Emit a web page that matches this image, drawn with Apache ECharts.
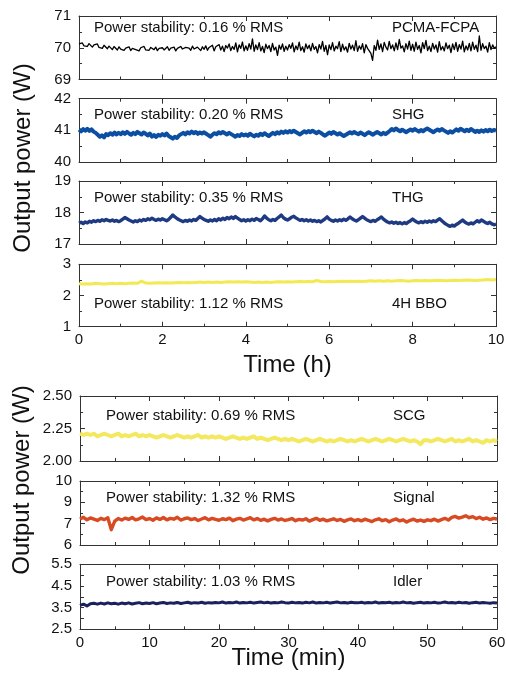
<!DOCTYPE html>
<html><head><meta charset="utf-8">
<script src="https://cdn.jsdelivr.net/npm/echarts@6/dist/echarts.min.js"></script>
<style>html,body{margin:0;padding:0;background:#fff}#c{width:506px;height:679px}</style>
</head><body><div id="c"></div>
<script>
// ---------- DATA ----------
// Top group: time span 0–10 h, samples evenly spaced over the span
const hoursSpan = 10;
const hourTicks = [0, 2, 4, 6, 8, 10];
const pcmaFcpa = [
70.12,70.08,70.15,70.06,70.11,70.04,70.13,70.07,70.02,70.09,70.05,70.12,70.01,70.06,69.98,70.08,70.03,69.97,70.05,70.00,69.94,70.04,69.99,69.93,70.03,
69.96,70.02,69.92,69.99,69.95,70.03,69.91,69.98,70.01,69.94,69.97,69.90,70.00,69.95,70.04,69.93,69.97,69.92,70.01,69.96,69.94,70.02,69.91,69.98,69.95,
70.00,69.93,69.97,70.03,69.92,69.99,69.95,70.02,69.90,69.98,69.94,70.04,69.96,69.91,70.01,69.95,69.99,69.92,70.05,69.96,69.93,70.02,69.97,69.91,70.03,
69.95,70.06,69.92,70.01,69.96,70.08,69.90,70.03,69.97,70.10,69.93,70.05,69.88,70.07,69.99,70.12,69.91,70.04,69.95,70.15,69.87,70.09,69.98,70.18,69.90,
70.06,69.92,70.13,69.96,70.28,69.89,70.09,69.94,70.16,69.90,70.04,69.85,70.11,69.97,70.07,69.88,70.14,69.93,70.02,69.76,70.08,69.95,70.12,69.89,70.05,
69.93,70.10,69.98,70.15,69.87,70.06,69.94,70.18,69.91,70.03,69.86,70.12,69.97,70.08,69.90,70.14,69.95,70.04,69.84,70.10,69.96,70.20,69.89,70.07,69.78,
70.09,69.94,70.16,69.90,70.05,69.97,70.19,69.88,70.11,69.93,70.03,69.86,70.14,69.96,70.08,69.91,70.22,69.89,70.06,69.95,70.13,69.84,70.10,69.98,70.04,
69.82,69.60,70.07,69.92,70.24,69.95,70.12,69.88,70.17,70.02,69.93,70.20,69.97,70.09,69.90,70.15,69.94,70.26,69.99,70.06,69.87,70.13,69.96,70.21,69.92,
70.11,69.89,70.18,69.95,70.07,69.84,70.16,69.97,70.23,69.91,70.05,69.88,70.14,69.96,70.09,69.86,70.19,69.93,70.04,69.90,70.15,69.97,70.08,69.85,70.12,
69.94,70.17,69.89,70.10,69.96,70.21,69.87,70.06,69.93,70.14,69.90,70.18,69.95,70.08,69.88,70.37,69.92,70.13,69.97,70.05,69.86,70.16,69.94,70.09,69.98,
70.03];
const shg = [
41.02,40.97,41.04,40.99,41.05,40.98,41.03,40.96,40.92,40.86,40.80,40.84,40.78,40.88,40.85,40.91,40.86,40.93,40.87,40.92,
40.88,40.94,40.89,40.95,40.90,40.86,40.92,40.88,40.95,40.91,40.87,40.93,40.89,40.84,40.90,40.80,40.85,40.79,40.86,40.83,
40.88,40.84,40.90,40.82,40.78,40.74,40.80,40.76,40.84,40.88,40.92,40.87,40.94,40.90,40.96,40.91,40.95,40.89,40.93,40.90,
40.94,40.89,40.85,40.80,40.86,40.91,40.88,40.94,40.90,40.95,40.91,40.87,40.92,40.88,40.84,40.80,40.85,40.82,40.88,40.84,
40.87,40.83,40.89,40.85,40.81,40.86,40.83,40.89,40.85,40.91,40.86,40.82,40.87,40.92,40.88,40.94,40.90,40.96,40.92,40.97,
40.93,40.98,40.94,40.99,40.95,40.91,40.87,40.92,40.97,40.93,40.98,40.94,40.99,40.95,40.91,40.96,40.92,40.87,40.83,40.88,
40.93,40.89,40.95,40.91,40.87,40.91,40.86,40.82,40.86,40.90,40.94,40.90,40.95,40.91,40.88,40.93,40.89,40.85,40.90,40.94,
40.90,40.86,40.91,40.95,40.91,40.87,40.92,40.88,40.93,40.98,41.04,41.00,41.06,41.01,40.97,41.02,40.98,40.94,40.99,41.03,
40.99,41.04,41.00,40.96,41.01,40.97,41.02,41.06,41.02,40.98,40.94,40.99,41.03,40.99,41.04,41.00,40.96,40.92,40.97,40.93,
40.98,41.03,40.99,41.05,41.01,40.97,41.02,40.98,41.04,41.00,40.95,40.99,40.95,41.00,40.96,41.01,40.97,41.02,40.98,41.01,40.99];
const thg = [
17.66,17.69,17.65,17.70,17.67,17.72,17.69,17.74,17.71,17.75,17.72,17.77,17.74,17.78,17.75,17.73,17.76,17.72,17.75,17.71,
17.74,17.79,17.84,17.80,17.76,17.73,17.70,17.74,17.71,17.76,17.73,17.78,17.75,17.80,17.77,17.82,17.78,17.75,17.79,17.76,
17.80,17.77,17.74,17.78,17.85,17.92,17.86,17.81,17.77,17.74,17.71,17.75,17.72,17.76,17.73,17.78,17.75,17.81,17.87,17.82,
17.78,17.75,17.72,17.76,17.73,17.78,17.74,17.80,17.76,17.82,17.78,17.84,17.80,17.86,17.81,17.87,17.82,17.78,17.74,17.77,
17.73,17.77,17.74,17.79,17.75,17.81,17.78,17.74,17.80,17.89,17.82,17.77,17.74,17.78,17.75,17.81,17.86,17.92,17.84,17.79,
17.76,17.80,17.85,17.88,17.83,17.79,17.75,17.78,17.74,17.77,17.73,17.76,17.72,17.75,17.71,17.74,17.70,17.75,17.80,17.86,
17.79,17.75,17.72,17.76,17.73,17.77,17.74,17.79,17.75,17.80,17.86,17.80,17.76,17.73,17.77,17.82,17.87,17.82,17.77,17.74,
17.71,17.75,17.72,17.77,17.81,17.86,17.79,17.74,17.70,17.67,17.70,17.66,17.69,17.65,17.68,17.64,17.68,17.65,17.70,17.74,
17.79,17.74,17.70,17.67,17.71,17.68,17.72,17.69,17.73,17.70,17.74,17.71,17.76,17.80,17.74,17.68,17.63,17.59,17.56,17.60,
17.57,17.62,17.66,17.71,17.76,17.70,17.66,17.63,17.67,17.64,17.69,17.74,17.70,17.76,17.72,17.68,17.65,17.69,17.64,17.61,17.63];
const bbo4h = [
2.38,2.37,2.38,2.37,2.39,2.38,2.37,2.38,2.39,2.38,
2.39,2.38,2.39,2.40,2.39,2.46,2.40,2.39,2.40,2.41,
2.40,2.41,2.40,2.41,2.42,2.41,2.42,2.41,2.42,2.43,
2.42,2.43,2.42,2.43,2.42,2.43,2.44,2.43,2.44,2.43,
2.44,2.43,2.42,2.43,2.42,2.43,2.42,2.43,2.44,2.43,
2.44,2.43,2.44,2.45,2.44,2.45,2.44,2.48,2.45,2.44,
2.45,2.44,2.45,2.46,2.45,2.46,2.45,2.46,2.45,2.46,
2.47,2.46,2.47,2.46,2.47,2.46,2.47,2.48,2.47,2.46,
2.47,2.48,2.47,2.48,2.47,2.48,2.49,2.48,2.47,2.48,
2.49,2.48,2.49,2.50,2.49,2.48,2.49,2.50,2.51,2.50,2.51];

// Bottom group: time span 0–60 min
const minutesSpan = 60;
const minuteTicks = [0, 10, 20, 30, 40, 50, 60];
const scg = [
2.21,2.20,2.21,2.20,2.21,2.19,2.20,2.21,2.20,2.19,2.20,2.21,2.19,2.20,2.19,2.20,2.21,2.19,2.20,2.19,
2.20,2.19,2.18,2.19,2.20,2.19,2.18,2.19,2.20,2.19,2.18,2.19,2.18,2.19,2.20,2.18,2.19,2.18,2.19,2.18,
2.19,2.18,2.17,2.18,2.19,2.18,2.17,2.18,2.17,2.18,2.19,2.17,2.18,2.17,2.16,2.17,2.18,2.17,2.16,2.17,
2.16,2.17,2.16,2.15,2.16,2.17,2.16,2.15,2.16,2.17,2.16,2.15,2.16,2.15,2.16,2.17,2.16,2.15,2.16,2.15,
2.16,2.17,2.16,2.15,2.16,2.17,2.16,2.15,2.16,2.17,2.16,2.15,2.16,2.17,2.16,2.15,2.16,2.15,2.13,2.16,
2.16,2.15,2.16,2.17,2.16,2.15,2.16,2.17,2.15,2.16,2.15,2.16,2.17,2.15,2.16,2.15,2.14,2.16,2.15,2.16,2.15];
const signal = [
7.22,7.30,7.18,7.27,7.21,7.15,7.25,7.19,7.28,6.72,7.12,7.24,7.17,7.26,7.20,7.29,7.18,7.23,7.31,7.19,
7.24,7.16,7.27,7.20,7.29,7.18,7.25,7.21,7.30,7.17,7.23,7.27,7.19,7.24,7.15,7.22,7.28,7.18,7.25,7.20,
7.16,7.23,7.19,7.26,7.14,7.21,7.25,7.17,7.22,7.28,7.18,7.24,7.16,7.21,7.13,7.20,7.25,7.17,7.22,7.15,
7.19,7.24,7.14,7.20,7.17,7.23,7.12,7.19,7.25,7.16,7.21,7.13,7.18,7.23,7.15,7.20,7.11,7.18,7.22,7.14,
7.19,7.13,7.21,7.16,7.10,7.18,7.23,7.14,7.19,7.09,7.17,7.22,7.13,7.18,7.08,7.16,7.21,7.12,7.17,7.11,
7.18,7.14,7.21,7.12,7.19,7.25,7.17,7.29,7.34,7.26,7.31,7.37,7.28,7.33,7.24,7.30,7.21,7.27,7.19,7.25,7.22];
// Signal axis tick labels as printed in the reference (ticks at 6,7,8,9)
const signalTickValues = [6, 7, 8, 9];
const signalTickLabels = ['6', '7', '9', '10'];
const idler = [
3.60,3.66,3.58,3.68,3.70,3.66,3.71,3.67,3.72,3.68,3.70,3.66,3.71,3.68,3.72,3.67,3.70,3.73,3.68,3.71,
3.69,3.73,3.68,3.71,3.74,3.69,3.72,3.70,3.74,3.69,3.72,3.75,3.70,3.73,3.71,3.75,3.70,3.73,3.71,3.74,
3.72,3.76,3.71,3.74,3.72,3.76,3.71,3.74,3.72,3.75,3.71,3.74,3.76,3.72,3.75,3.71,3.74,3.72,3.76,3.73,
3.71,3.75,3.72,3.74,3.71,3.75,3.72,3.76,3.71,3.74,3.72,3.75,3.71,3.74,3.76,3.72,3.74,3.71,3.75,3.73,
3.72,3.75,3.71,3.74,3.72,3.76,3.71,3.74,3.73,3.75,3.71,3.74,3.72,3.76,3.72,3.74,3.70,3.73,3.75,3.71,
3.74,3.72,3.75,3.71,3.73,3.76,3.72,3.74,3.71,3.75,3.72,3.74,3.70,3.73,3.75,3.71,3.74,3.72,3.70,3.73,3.71];

const stabilityTexts = ['0.16', '0.20', '0.35', '1.12', '0.69', '1.32', '1.03'];
const panelNames = ['PCMA-FCPA', 'SHG', 'THG', '4H BBO', 'SCG', 'Signal', 'Idler'];

// ---------- LAYOUT / STYLE ----------
const FONT = 'Liberation Sans, Arial, Helvetica, sans-serif';
const AX = '#333';
const panels = [
  {data: pcmaFcpa, span: hoursSpan, xint: 2, ymin: 69, ymax: 71, yint: 1, color: '#000000', lw: 1.3, left: 79, top: 16, w: 417, h: 63.5, xLab: false, ty: 28, tx: 94, nx: 392, fmt: v => String(v)},
  {data: shg, span: hoursSpan, xint: 2, ymin: 40, ymax: 42, yint: 1, color: '#0B4EA2', lw: 4, left: 79, top: 98.7, w: 417, h: 63.3, xLab: false, ty: 115, tx: 94, nx: 392, fmt: v => String(v)},
  {data: thg, span: hoursSpan, xint: 2, ymin: 17, ymax: 19, yint: 1, color: '#1D3A82', lw: 3.4, left: 79, top: 181, w: 417, h: 63, xLab: false, ty: 198, tx: 94, nx: 392, fmt: v => String(v)},
  {data: bbo4h, span: hoursSpan, xint: 2, ymin: 1, ymax: 3, yint: 1, color: '#F2EA55', lw: 3, left: 79, top: 264.3, w: 417, h: 62.4, xLab: true, ty: 303.5, tx: 94, nx: 392, fmt: v => String(v)},
  {data: scg, span: minutesSpan, xint: 10, ymin: 2, ymax: 2.5, yint: 0.25, color: '#F3E85E', lw: 4, left: 80, top: 396, w: 417, h: 65, xLab: false, ty: 416, tx: 106, nx: 393, fmt: v => v.toFixed(2)},
  {data: signal, span: minutesSpan, xint: 10, ymin: 6, ymax: 9, yint: 1, color: '#D84A22', lw: 3.4, left: 80, top: 481, w: 417, h: 64, xLab: false, ty: 498, tx: 106, nx: 393, fmt: v => { const i = signalTickValues.indexOf(v); return i >= 0 ? signalTickLabels[i] : ''; }},
  {data: idler, span: minutesSpan, xint: 10, ymin: 2.5, ymax: 5.5, yint: 0.5, color: '#1B205E', lw: 3, left: 80, top: 564.3, w: 417, h: 65, xLab: true, ty: 582, tx: 106, nx: 393, noMinor: true, fmt: v => (Math.abs((v - 2.5) % 1) < 1e-6 ? v.toFixed(1) : '')}
];

const grid = [], xAxis = [], yAxis = [], series = [], graphic = [];
const tickStyle = {show: true, inside: true, length: 5, lineStyle: {color: AX, width: 1}};
const minorStyle = {show: true, splitNumber: 2, length: 3, lineStyle: {color: AX, width: 1}};
const lineStyle = {show: true, onZero: false, lineStyle: {color: AX, width: 1}};
const labStyle = {color: '#111', fontSize: 15, fontFamily: FONT};

panels.forEach((p, i) => {
  grid.push({left: p.left, top: p.top, width: p.w, height: p.h, containLabel: false, outerBoundsMode: 'none'});
  const xb = {gridIndex: i, type: 'value', position: 'bottom', min: 0, max: p.span, interval: p.xint,
    axisLine: lineStyle, axisTick: tickStyle, minorTick: minorStyle, splitLine: {show: false}, minorSplitLine: {show: false},
    axisLabel: Object.assign({show: p.xLab, margin: 6}, labStyle)};
  const xt = Object.assign({}, xb, {position: 'top', axisLabel: {show: false}});
  const yl = {gridIndex: i, type: 'value', position: 'left', min: p.ymin, max: p.ymax, interval: p.yint,
    axisLine: lineStyle, axisTick: Object.assign({}, tickStyle, p.noMinor ? {length: 4} : {}),
    minorTick: p.noMinor ? {show: false} : minorStyle,
    splitLine: {show: false}, minorSplitLine: {show: false},
    axisLabel: Object.assign({show: true, margin: 8, formatter: p.fmt, showMinLabel: true, showMaxLabel: true}, labStyle)};
  const yr = Object.assign({}, yl, {position: 'right', axisLabel: {show: false}});
  const xi = xAxis.length; xAxis.push(xb, xt);
  const yi = yAxis.length; yAxis.push(yl, yr);
  const n = p.data.length;
  series.push({type: 'line', xAxisIndex: xi, yAxisIndex: yi, showSymbol: false, symbol: 'none', animation: false,
    silent: true, sampling: null, clip: true,
    lineStyle: {color: p.color, width: p.lw, join: 'round'},
    data: p.data.map((v, k) => [k * p.span / (n - 1), v])});
  graphic.push({type: 'text', x: p.tx, y: p.ty, silent: true,
    style: {text: 'Power stability: ' + stabilityTexts[i] + ' % RMS', fill: '#111', font: '15px ' + FONT, textAlign: 'left', textVerticalAlign: 'middle'}});
  graphic.push({type: 'text', x: p.nx, y: p.ty, silent: true,
    style: {text: panelNames[i], fill: '#111', font: '15px ' + FONT, textAlign: 'left', textVerticalAlign: 'middle'}});
});

// Axis titles
graphic.push({type: 'text', x: 287.5, y: 365, silent: true, style: {text: 'Time (h)', fill: '#111', font: '24px ' + FONT, textAlign: 'center', textVerticalAlign: 'middle'}});
graphic.push({type: 'text', x: 288.5, y: 658, silent: true, style: {text: 'Time (min)', fill: '#111', font: '24px ' + FONT, textAlign: 'center', textVerticalAlign: 'middle'}});
graphic.push({type: 'text', x: 23, y: 158, rotation: Math.PI / 2, silent: true, style: {text: 'Output power (W)', fill: '#111', font: '24px ' + FONT, textAlign: 'center', textVerticalAlign: 'middle'}});
graphic.push({type: 'text', x: 22, y: 480, rotation: Math.PI / 2, silent: true, style: {text: 'Output power (W)', fill: '#111', font: '24px ' + FONT, textAlign: 'center', textVerticalAlign: 'middle'}});

const chart = echarts.init(document.getElementById('c'), null, {renderer: 'canvas'});
chart.setOption({animation: false, backgroundColor: '#ffffff', grid, xAxis, yAxis, series, graphic});
</script></body></html>
